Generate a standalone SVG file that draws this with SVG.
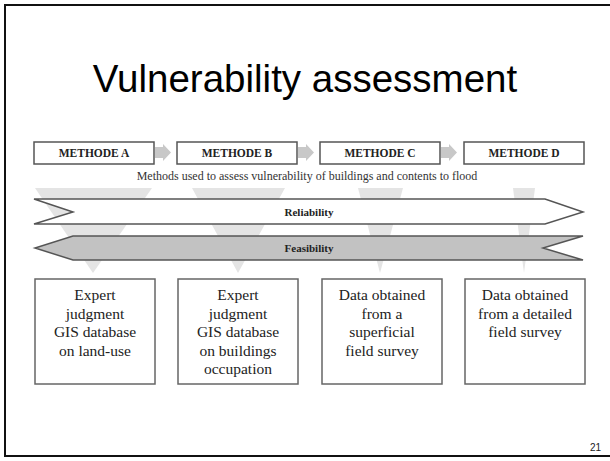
<svg xmlns="http://www.w3.org/2000/svg" width="610" height="461" viewBox="0 0 610 461">
<style>
.frame{fill:none;stroke:#111;stroke-width:2}
.title{font-family:"Liberation Sans",Arial,sans-serif;font-size:38.5px;fill:#000;text-anchor:middle}
.mbox{fill:#fff;stroke:#555;stroke-width:1.5}
.mtxt{font-family:"Liberation Serif","Times New Roman",serif;font-size:11.5px;font-weight:bold;fill:#222;text-anchor:middle}
.sub{font-family:"Liberation Serif","Times New Roman",serif;font-size:12px;fill:#333;text-anchor:middle}
.funnel{fill:#e4e4e4}
.band{stroke:#555;stroke-width:1.5}
.btxt{font-family:"Liberation Serif","Times New Roman",serif;font-size:11px;font-weight:bold;fill:#222;text-anchor:middle}
.box{fill:#fff;stroke:#666;stroke-width:1.5}
.txt{font-family:"Liberation Serif","Times New Roman",serif;font-size:15.5px;fill:#222;text-anchor:middle}
.conn{fill:#c8c8c8}
.pg{font-family:"Liberation Sans",Arial,sans-serif;font-size:10px;fill:#222;text-anchor:end}
</style>
<rect class="frame" x="5" y="5" width="620" height="451"/>
<text class="title" x="305" y="92">Vulnerability assessment</text>

<g id="funnels">
<polygon class="funnel" points="35,188 152,188 93,273"/>
<polygon class="funnel" points="192,188 285,188 238,273"/>
<polygon class="funnel" points="358,188 403,188 380,273"/>
<polygon class="funnel" points="513,188 535,188 524,273"/>
</g>

<g id="connectors">
<polygon class="conn" points="155,147 163,147 163,144 171,152.5 163,161 163,158 155,158"/>
<polygon class="conn" points="298,147 306,147 306,144 314,152.5 306,161 306,158 298,158"/>
<polygon class="conn" points="441,147 449,147 449,144 457,152.5 449,161 449,158 441,158"/>
</g>

<g id="methodeA"><rect class="mbox" x="34" y="142" width="120" height="22"/><text class="mtxt" x="94" y="157">METHODE A</text></g>
<g id="methodeB"><rect class="mbox" x="177" y="142" width="120" height="22"/><text class="mtxt" x="237" y="157">METHODE B</text></g>
<g id="methodeC"><rect class="mbox" x="320" y="142" width="120" height="22"/><text class="mtxt" x="380" y="157">METHODE C</text></g>
<g id="methodeD"><rect class="mbox" x="464" y="142" width="120" height="22"/><text class="mtxt" x="524" y="157">METHODE D</text></g>

<text class="sub" x="307" y="180">Methods used to assess vulnerability of buildings and contents to flood</text>

<g id="reliability">
<polygon class="band" fill="#fff" points="34,199 545,199 583,212 545,224 34,224 73,212"/>
<text class="btxt" x="309" y="215.5">Reliability</text>
</g>
<g id="feasibility">
<polygon class="band" fill="#c2c2c2" points="73,236 583,236 543,248 583,260 73,260 35,248"/>
<text class="btxt" x="309" y="252">Feasibility</text>
</g>

<g id="boxA"><rect class="box" x="35" y="279" width="120" height="105"/>
<text class="txt" x="95" y="300">Expert</text><text class="txt" x="95" y="318.5">judgment</text><text class="txt" x="95" y="337">GIS database</text><text class="txt" x="95" y="355.5">on land-use</text></g>
<g id="boxB"><rect class="box" x="178" y="279" width="120" height="105"/>
<text class="txt" x="238" y="300">Expert</text><text class="txt" x="238" y="318.5">judgment</text><text class="txt" x="238" y="337">GIS database</text><text class="txt" x="238" y="355.5">on buildings</text><text class="txt" x="238" y="374">occupation</text></g>
<g id="boxC"><rect class="box" x="322" y="279" width="120" height="105"/>
<text class="txt" x="382" y="300">Data obtained</text><text class="txt" x="382" y="318.5">from a</text><text class="txt" x="382" y="337">superficial</text><text class="txt" x="382" y="355.5">field survey</text></g>
<g id="boxD"><rect class="box" x="465" y="279" width="120" height="105"/>
<text class="txt" x="525" y="300">Data obtained</text><text class="txt" x="525" y="318.5">from a detailed</text><text class="txt" x="525" y="337">field survey</text></g>

<text class="pg" x="601" y="451">21</text>
</svg>
